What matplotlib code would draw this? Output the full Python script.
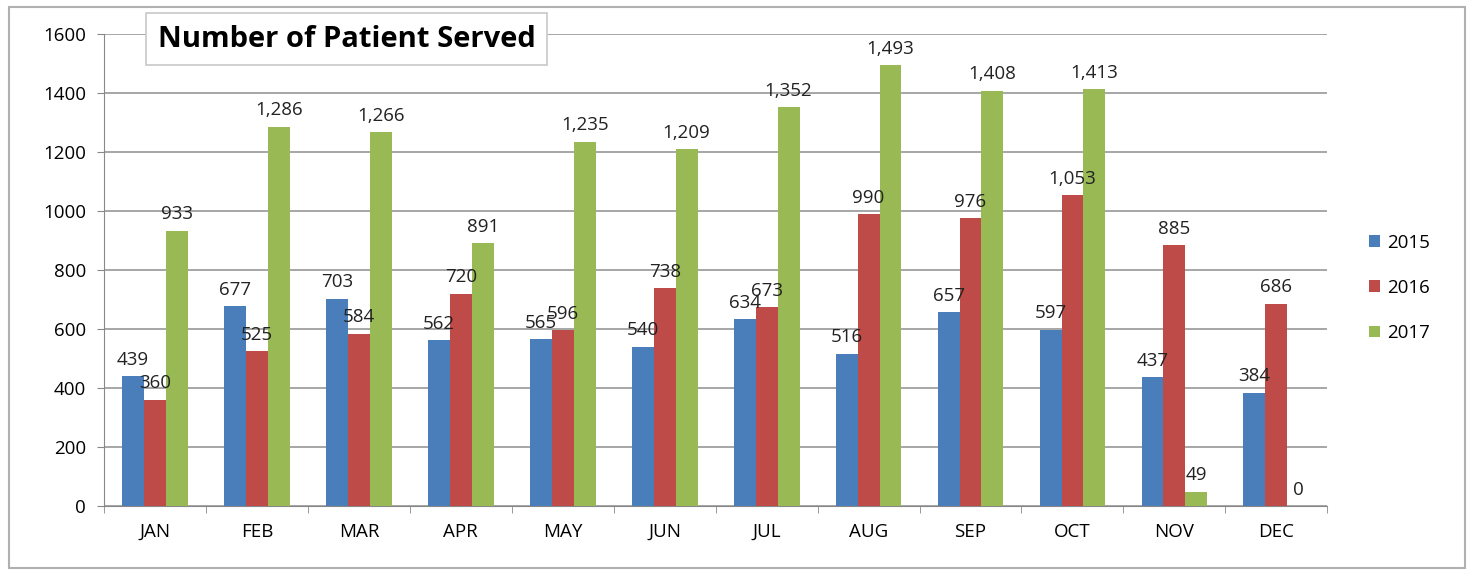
import numpy as np
import matplotlib.pyplot as plt
from matplotlib.patches import Rectangle

months = ["JAN", "FEB", "MAR", "APR", "MAY", "JUN", "JUL", "AUG", "SEP", "OCT", "NOV", "DEC"]
y2015 = [439, 677, 703, 562, 565, 540, 634, 516, 657, 597, 437, 384]
y2016 = [360, 525, 584, 720, 596, 738, 673, 990, 976, 1053, 885, 686]
y2017 = [933, 1286, 1266, 891, 1235, 1209, 1352, 1493, 1408, 1413, 49, 0]
series = [("2015", y2015, "#4a7ebb"), ("2016", y2016, "#be4b48"), ("2017", y2017, "#98b954")]

plt.rcParams['font.family'] = ['Open Sans', 'DejaVu Sans']

fig = plt.figure(figsize=(14.72, 5.75), dpi=100)
ax = fig.add_axes([0.0707, 0.12, 0.831, 0.821])

# outer chart border
fig.patches.append(Rectangle((0.006, 0.012), 0.989, 0.975, transform=fig.transFigure,
                             fill=False, edgecolor="#b0b0b0", lw=1.5))

x = np.arange(len(months))
w = 0.215
for i, (name, vals, col) in enumerate(series):
    pos = x + (i - 1) * w
    ax.bar(pos, vals, w, color=col, label=name, zorder=3)
    for px, v in zip(pos, vals):
        ax.text(px, v + 25, f"{v:,}", ha="center", va="bottom", fontsize=13.5, color="#222222", zorder=4)

ax.set_xlim(-0.5, len(months) - 0.5)
ax.set_ylim(0, 1600)
ax.set_yticks(range(0, 1601, 200))
ax.set_xticks(x)
ax.set_xticklabels(months)
ax.set_xticks(np.arange(-0.5, len(months), 1), minor=True)
ax.tick_params(axis="x", which="major", length=0, pad=12, labelsize=13.5)
ax.tick_params(axis="x", which="minor", length=5, color="#888888")
ax.tick_params(axis="y", length=5, color="#888888", labelsize=13.5, pad=8)
ax.grid(axis="y", color="#a6a6a6", lw=1.4, zorder=0)
for s in ["top", "right"]:
    ax.spines[s].set_visible(False)
ax.spines["left"].set_color("#888888")
ax.spines["bottom"].set_color("#888888")

ax.legend(loc="center left", bbox_to_anchor=(1.02, 0.462), frameon=False, fontsize=13.5,
          handlelength=0.6, handleheight=0.6, labelspacing=1.45, handletextpad=0.4)

fig.text(0.107, 0.932, "Number of Patient Served", fontsize=21, fontweight="bold", va="center",
         bbox=dict(boxstyle="square,pad=0.4", facecolor="white", edgecolor="#c8c8c8", lw=1.2))

fig.savefig("out.png", dpi=100)
